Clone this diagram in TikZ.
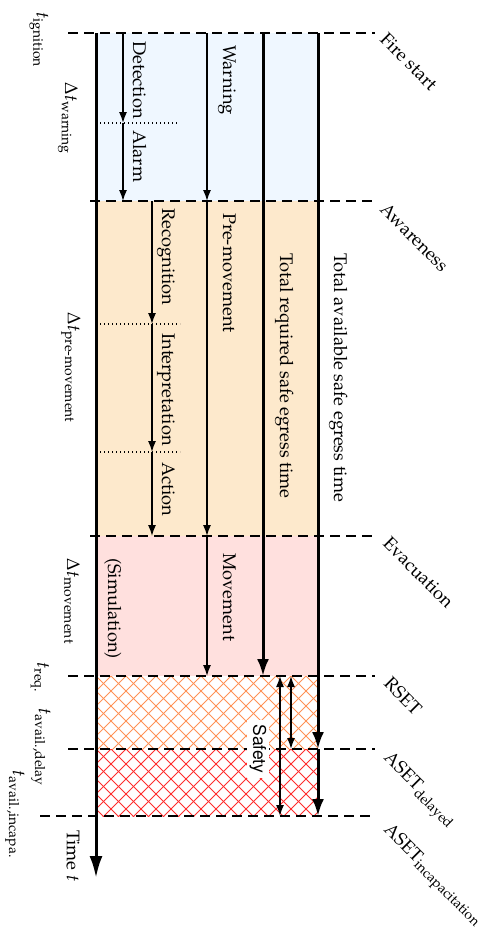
\documentclass[tikz,border=0pt]{standalone}
\usepackage[T1]{fontenc}
\usepackage{mathpazo}
\usepackage{amsmath}
\usetikzlibrary{arrows.meta}
\definecolor{bluefill}{RGB}{239,247,255}
\definecolor{orangefill}{RGB}{253,233,204}
\definecolor{redfill}{RGB}{255,224,222}
\definecolor{hatchorange}{RGB}{255,145,85}
\definecolor{hatchred}{RGB}{255,45,45}
\begin{document}
\begin{tikzpicture}[x=1pt,y=-1pt,
  every node/.style={font=\fontsize{18.3}{22}\selectfont, inner sep=0pt},
  phase/.style={line width=1.5pt, dash pattern=on 10pt off 6pt},
  thinarrow/.style={line width=1.4pt, -{Latex[length=11pt,width=8pt]}},
  thickarrow/.style={line width=3pt, -{Latex[length=17pt,width=12pt]}},
  safearrow/.style={line width=1.5pt, {Latex[length=11pt,width=8pt]}-{Latex[length=11pt,width=8pt]}},
  dotline/.style={line width=1.2pt, dash pattern=on 1.2pt off 2.8pt},
  vlabel/.style={rotate=-90, anchor=base west},
  clabel/.style={rotate=-90, anchor=west},
  dlabel/.style={rotate=-45, anchor=north west, inner sep=1pt},
  hatchline/.style={line width=0.9pt},
]
\useasboundingbox (0,0) rectangle (486,930);
% coordinates
\coordinate (A0) at (96,33);   \coordinate (Aend) at (96,878);
\coordinate (D0) at (123,33);  \coordinate (D1) at (123,123); \coordinate (D2) at (123,201);
\coordinate (R0) at (152,201); \coordinate (R1) at (152,324); \coordinate (R2) at (152,452); \coordinate (R3) at (152,536);
\coordinate (W0) at (207,33);  \coordinate (W1) at (207,201); \coordinate (W2) at (207,536); \coordinate (W3) at (207,676);
\coordinate (S0) at (263,33);  \coordinate (S1) at (263,676);
\coordinate (T0) at (318,33);  \coordinate (T1) at (318,749); \coordinate (T2) at (318,816);
\coordinate (F1a) at (280,676); \coordinate (F1b) at (280,816);
\coordinate (F2a) at (291,676); \coordinate (F2b) at (291,749);
% fills
\fill[bluefill] (96,33) rectangle (318,201);
\fill[orangefill] (96,201) rectangle (318,536);
\fill[redfill] (96,536) rectangle (318,676);
% hatching
\begin{scope}
  \clip (96,676) rectangle (318,749);
  \foreach \i in {-8,...,22} {
    \draw[hatchorange, hatchline] (96+\i*15,676) -- ++(90,90);
    \draw[hatchorange, hatchline] (96+\i*15,676) -- ++(-90,90);
  }
\end{scope}
\begin{scope}
  \clip (96,749) rectangle (318,816);
  \foreach \i in {-8,...,22} {
    \draw[hatchred, hatchline] (96+\i*15,749) -- ++(80,80);
    \draw[hatchred, hatchline] (96+\i*15,749) -- ++(-80,80);
  }
\end{scope}
% phase lines
\coordinate (P0a) at (68,33);  \coordinate (P0b) at (375,33);
\coordinate (P1a) at (90,201); \coordinate (P1b) at (375,201);
\coordinate (P2a) at (90,536); \coordinate (P2b) at (375,536);
\coordinate (P3a) at (68,676); \coordinate (P3b) at (375,676);
\coordinate (P4a) at (68,749); \coordinate (P4b) at (375,749);
\coordinate (P5a) at (40,816); \coordinate (P5b) at (375,816);
\foreach \p in {0,...,5} { \draw[phase] (P\p a) -- (P\p b); }
% dotted separators
\coordinate (Q1a) at (100,123); \coordinate (Q1b) at (177,123);
\coordinate (Q2a) at (100,324); \coordinate (Q2b) at (180,324);
\coordinate (Q3a) at (100,452); \coordinate (Q3b) at (180,452);
\draw[dotline] (Q1a) -- (Q1b);
\draw[dotline] (Q2a) -- (Q2b);
\draw[dotline] (Q3a) -- (Q3b);
% arrows
\draw[thinarrow] (D0) -- (D1);
\draw[thinarrow] (D1) -- (D2);
\draw[thinarrow] (R0) -- (R1);
\draw[thinarrow] (R1) -- (R2);
\draw[thinarrow] (R2) -- (R3);
\draw[thinarrow] (W0) -- (W1);
\draw[thinarrow] (W1) -- (W2);
\draw[thinarrow] (W2) -- (W3);
\draw[thickarrow] (S0) -- (S1);
\draw[thickarrow] (T0) -- (T1);
\draw[thickarrow] (T1) -- (T2);
\draw[safearrow] (F1a) -- (F1b);
\draw[safearrow] (F2a) -- (F2b);
\draw[line width=3pt, -{Latex[length=22pt,width=13pt]}] (A0) -- (Aend);
% labels in columns
\node[vlabel] (det) at (133,41) {Detection};
\node[vlabel] (alarm) at (133,130) {Alarm};
\node[vlabel] (warn) at (223,45) {Warning};
\node[vlabel] (recog) at (162,208) {Recognition};
\node[vlabel] (interp) at (162,333) {Interpretation};
\node[vlabel] (act) at (162,462) {Action};
\node[vlabel] (premov) at (223,213) {Pre-movement};
\node[vlabel] (mov) at (223,553) {Movement};
\node[vlabel] (sim) at (108,558) {(Simulation)};
\node[vlabel] (rset) at (280,253) {Total required safe egress time};
\node[vlabel] (aset) at (334,253) {Total available safe egress time};
\node[rotate=-90, fill=white, inner xsep=4pt, inner ysep=3pt, font=\fontfamily{phv}\selectfont\fontsize{17.5}{20}\selectfont] (safety) at (258,749) {Safety};
% left labels
\node[clabel] (tign) at (39,12) {$t_{\text{ignition}}$};
\node[clabel] (dtw) at (68,82) {$\Delta t_{\text{warning}}$};
\node[clabel] (dtp) at (71,312) {$\Delta t_{\text{pre-movement}}$};
\node[clabel] (dtm) at (72,558) {$\Delta t_{\text{movement}}$};
\node[clabel] (treq) at (40,662) {$t_{\text{req.}}$};
\node[clabel] (tdel) at (41,708) {$t_{\text{avail.,delay}}$};
\node[clabel] (tinc) at (15,770) {$t_{\text{avail.,incapa.}}$};
\node[clabel] (time) at (73,830) {Time $t$};
% right labels
\node[dlabel] (l0) at (388,30) {Fire start};
\node[dlabel] (l1) at (388,200) {Awareness};
\node[dlabel] (l2) at (391,534) {Evacuation};
\node[dlabel] (l3) at (392,674) {RSET};
\node[dlabel] (l4) at (392,748) {ASET$_{\text{delayed}}$};
\node[dlabel] (l5) at (392,820) {ASET$_{\text{incapacitation}}$};
\end{tikzpicture}
\end{document}
